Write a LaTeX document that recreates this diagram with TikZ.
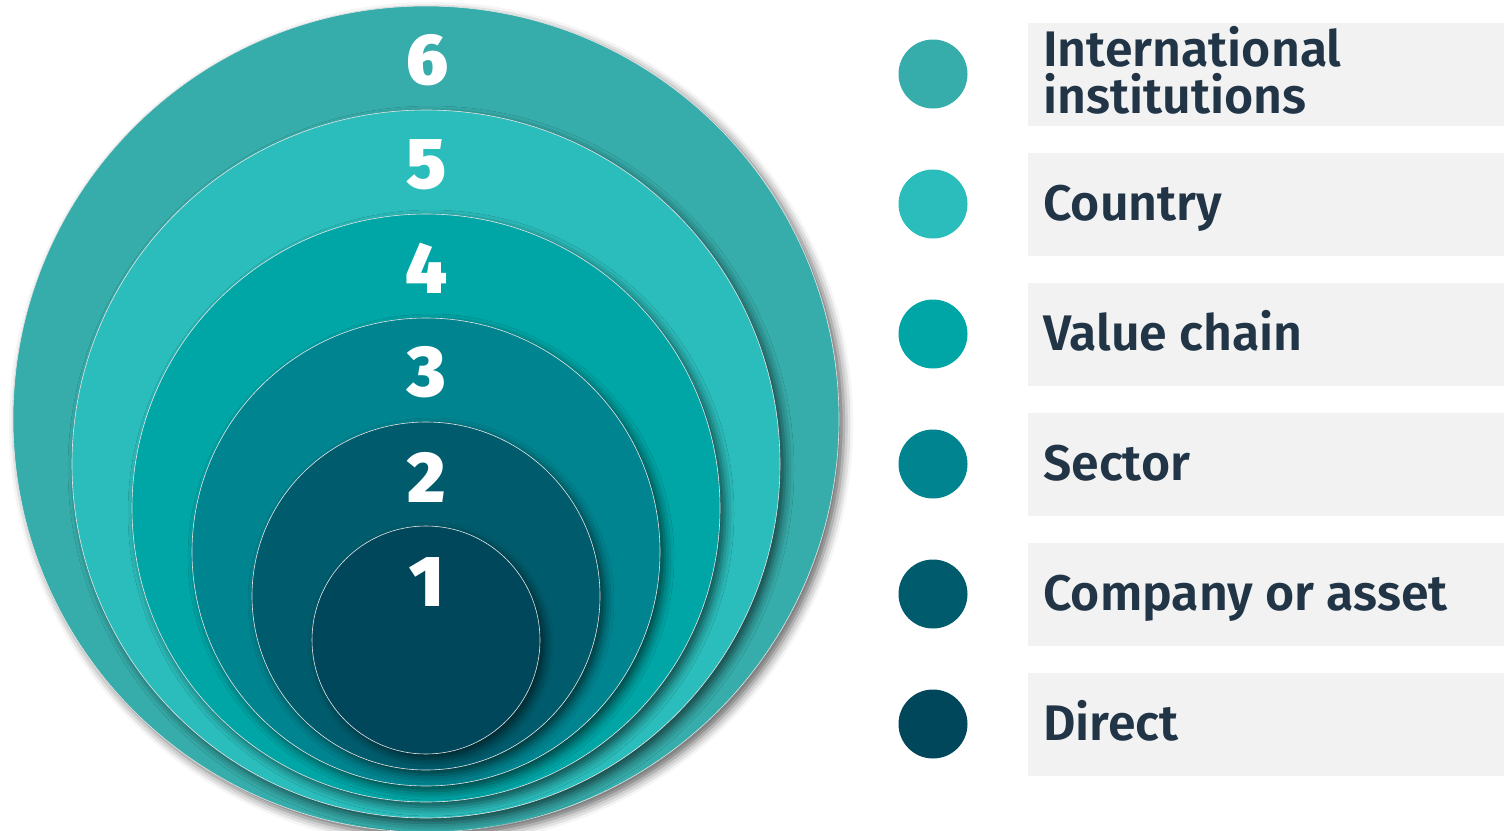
\documentclass[tikz,border=0pt]{standalone}
\usepackage{fontspec}
\setmainfont{Fira Sans}
\newfontfamily\labfont{Fira Sans}[UprightFont={* SemiBold}]
\newfontfamily\numfont{Fira Sans}[UprightFont={* Black}]
\usetikzlibrary{shadows.blur}
\definecolor{cSix}{HTML}{37ADAB}
\definecolor{cFive}{HTML}{2BBDBB}
\definecolor{cFour}{HTML}{00A5A5}
\definecolor{cThree}{HTML}{008490}
\definecolor{cTwo}{HTML}{005C6D}
\definecolor{cOne}{HTML}{00475C}
\definecolor{txt}{HTML}{213547}
\definecolor{boxbg}{HTML}{F2F2F2}
\tikzset{
  ring/.style={circle, inner sep=0pt, draw=white!80!gray, line width=0.6pt,
    blur shadow={shadow xshift=5pt, shadow yshift=-5pt, shadow blur radius=9pt, shadow opacity=60}},
  num/.style={text=white, font=\numfont\fontsize{72}{72}\selectfont, inner sep=0pt},
  dot/.style={circle, inner sep=0pt, minimum size=69pt},
  labbox/.style={fill=boxbg, inner sep=0pt, minimum width=476pt, minimum height=103pt, anchor=west},
  lab/.style={text=txt, font=\labfont\fontsize{50}{47}\selectfont, inner sep=0pt, anchor=base west, align=left}
}
\begin{document}
\begin{tikzpicture}[x=1pt,y=-1pt]
\useasboundingbox (0,0) rectangle (1504,830);
\begin{scope}
\clip (0,0) rectangle (1504,830);
\node[ring, fill=cSix, minimum size=826pt] (c6) at (426,419) {};
\node[ring, fill=cFive, minimum size=708pt] (c5) at (426,464) {};
\node[ring, fill=cFour, minimum size=588pt] (c4) at (426,508) {};
\node[ring, fill=cThree, minimum size=468pt] (c3) at (426,552) {};
\node[ring, fill=cTwo, minimum size=348pt] (c2) at (426,596) {};
\node[ring, fill=cOne, minimum size=228pt] (c1) at (426,640) {};
\end{scope}
\node[num] (n6) at (427,60) {6};
\node[num] (n5) at (427,165) {5};
\node[num] (n4) at (427,268) {4};
\node[num] (n3) at (427,372) {3};
\node[num] (n2) at (427,477) {2};
\node[num] (n1) at (427,582) {1};

\node[dot, fill=cSix] (d6) at (933,74) {};
\node[dot, fill=cFive] (d5) at (933,204) {};
\node[dot, fill=cFour] (d4) at (933,334) {};
\node[dot, fill=cThree] (d3) at (933,464) {};
\node[dot, fill=cTwo] (d2) at (933,594) {};
\node[dot, fill=cOne] (d1) at (933,724) {};

\node[labbox] (b6) at (1028,74.5) {};
\node[labbox] (b5) at (1028,204.5) {};
\node[labbox] (b4) at (1028,334.5) {};
\node[labbox] (b3) at (1028,464.5) {};
\node[labbox] (b2) at (1028,594.5) {};
\node[labbox] (b1) at (1028,724.5) {};

\node[lab] (t6) at (1043,113) {International\\institutions};
\node[lab] (t5) at (1043,220) {Country};
\node[lab] (t4) at (1043,350) {Value chain};
\node[lab] (t3) at (1043,480) {Sector};
\node[lab] (t2) at (1043,610) {Company or asset};
\node[lab] (t1) at (1043,740) {Direct};
\end{tikzpicture}
\end{document}
